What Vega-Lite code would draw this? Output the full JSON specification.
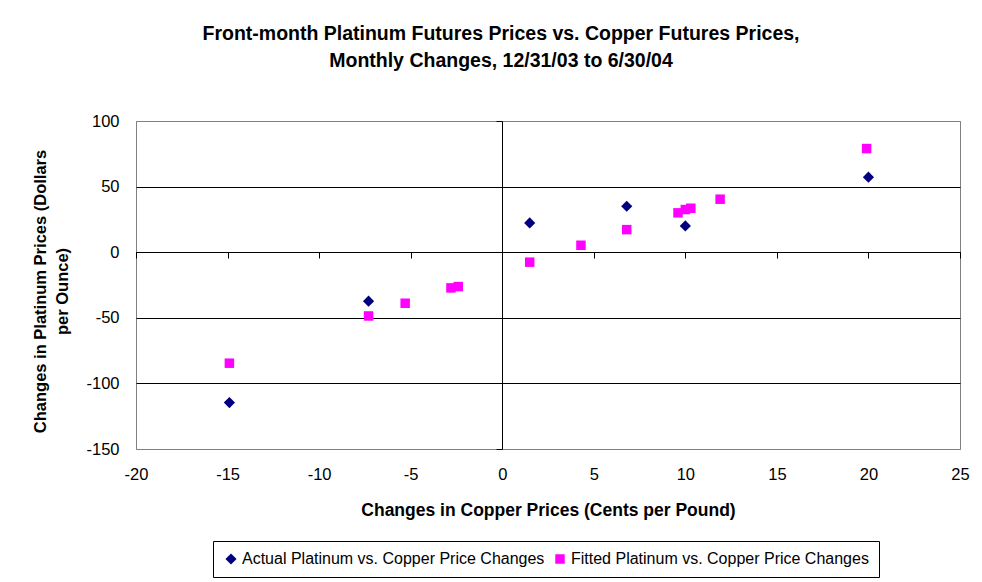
{
  "$schema": "https://vega.github.io/schema/vega-lite/v6.json",
  "width": 824,
  "height": 328,
  "autosize": {"type": "none"},
  "padding": {"left": 136, "top": 121, "right": 22, "bottom": 133},
  "background": "white",
  "title": {
    "text": ["Front-month Platinum Futures Prices vs. Copper Futures Prices,", "Monthly Changes, 12/31/03 to 6/30/04"],
    "font": "Liberation Sans",
    "fontSize": 19.5,
    "fontWeight": "bold",
    "color": "black",
    "anchor": "middle",
    "dx": -47,
    "offset": 42,
    "lineHeight": 27
  },
  "config": {
    "view": {"stroke": "#808080", "strokeWidth": 1},
    "font": "Liberation Sans"
  },
  "resolve": {"axis": {"x": "independent", "y": "independent"}},
  "layer": [
    {
      "data": {
        "values": [
          {"series": "Actual Platinum vs. Copper Price Changes", "copper": -14.9, "platinum": -114.6},
          {"series": "Actual Platinum vs. Copper Price Changes", "copper": -7.3, "platinum": -37.3},
          {"series": "Actual Platinum vs. Copper Price Changes", "copper": 1.5, "platinum": 22.3},
          {"series": "Actual Platinum vs. Copper Price Changes", "copper": 6.8, "platinum": 35.0},
          {"series": "Actual Platinum vs. Copper Price Changes", "copper": 10.0, "platinum": 20.0},
          {"series": "Actual Platinum vs. Copper Price Changes", "copper": 20.0, "platinum": 57.2},
          {"series": "Fitted Platinum vs. Copper Price Changes", "copper": -14.9, "platinum": -84.6},
          {"series": "Fitted Platinum vs. Copper Price Changes", "copper": -7.3, "platinum": -48.6},
          {"series": "Fitted Platinum vs. Copper Price Changes", "copper": -5.3, "platinum": -38.9},
          {"series": "Fitted Platinum vs. Copper Price Changes", "copper": -2.8, "platinum": -27.2},
          {"series": "Fitted Platinum vs. Copper Price Changes", "copper": -2.4, "platinum": -26.2},
          {"series": "Fitted Platinum vs. Copper Price Changes", "copper": 1.5, "platinum": -7.6},
          {"series": "Fitted Platinum vs. Copper Price Changes", "copper": 4.3, "platinum": 5.3},
          {"series": "Fitted Platinum vs. Copper Price Changes", "copper": 6.8, "platinum": 17.2},
          {"series": "Fitted Platinum vs. Copper Price Changes", "copper": 9.6, "platinum": 30.0},
          {"series": "Fitted Platinum vs. Copper Price Changes", "copper": 10.0, "platinum": 32.5},
          {"series": "Fitted Platinum vs. Copper Price Changes", "copper": 10.3, "platinum": 33.5},
          {"series": "Fitted Platinum vs. Copper Price Changes", "copper": 11.9, "platinum": 40.4},
          {"series": "Fitted Platinum vs. Copper Price Changes", "copper": 19.9, "platinum": 79.0}
        ]
      },
      "mark": {"type": "point", "filled": true, "opacity": 1},
      "encoding": {
        "x": {
          "field": "copper",
          "type": "quantitative",
          "scale": {"domain": [-20, 25], "nice": false, "zero": false},
          "axis": {
            "values": [-20, -15, -10, -5, 0, 5, 10, 15, 20, 25],
            "labelExpr": "datum.value + ''",
            "labelFlush": false,
            "grid": false,
            "ticks": false,
            "domain": false,
            "labelFontSize": 16.5,
            "labelColor": "black",
            "labelPadding": 17,
            "title": "Changes in Copper Prices (Cents per Pound)",
            "titleFontSize": 17.5,
            "titleFontWeight": "bold",
            "titleColor": "black",
            "titlePadding": 19
          }
        },
        "y": {
          "field": "platinum",
          "type": "quantitative",
          "scale": {"domain": [-150, 100], "nice": false, "zero": false},
          "axis": {
            "values": [-150, -100, -50, 0, 50, 100],
            "labelExpr": "datum.value + ''",
            "labelFlush": false,
            "grid": true,
            "gridColor": {"condition": {"test": "datum.value == 100 || datum.value == -150", "value": "#808080"}, "value": "black"},
            "gridOpacity": 1,
            "ticks": false,
            "domain": false,
            "labelFontSize": 16.5,
            "labelColor": "black",
            "labelPadding": 17,
            "title": ["Changes in Platinum Prices (Dollars", "per Ounce)"],
            "titleFontSize": 16.5,
            "titleFontWeight": "bold",
            "titleColor": "black",
            "titleLineHeight": 22,
            "titlePadding": 15,
            "titleY": 170
          }
        },
        "color": {
          "field": "series",
          "type": "nominal",
          "scale": {
            "domain": ["Actual Platinum vs. Copper Price Changes", "Fitted Platinum vs. Copper Price Changes"],
            "range": ["#000080", "#FF00FF"]
          },
          "legend": {
            "orient": "none",
            "legendX": 77,
            "legendY": 420,
            "direction": "horizontal",
            "title": null,
            "strokeColor": "black",
            "fillColor": "white",
            "padding": 10,
            "labelFontSize": 16,
            "labelColor": "black",
            "labelLimit": 500,
            "symbolSize": 60,
            "symbolStrokeWidth": 0,
            "columnPadding": 7,
            "labelOffset": 3
          }
        },
        "shape": {
          "field": "series",
          "type": "nominal",
          "scale": {
            "domain": ["Actual Platinum vs. Copper Price Changes", "Fitted Platinum vs. Copper Price Changes"],
            "range": ["diamond", "square"]
          }
        },
        "size": {
          "field": "series",
          "type": "nominal",
          "scale": {
            "domain": ["Actual Platinum vs. Copper Price Changes", "Fitted Platinum vs. Copper Price Changes"],
            "range": [125, 90]
          },
          "legend": null
        }
      }
    },
    {
      "data": {"values": [{}]},
      "mark": {"type": "rule", "opacity": 0},
      "encoding": {
        "x": {"datum": 0, "type": "quantitative", "axis": null},
        "y": {
          "datum": -150,
          "type": "quantitative",
          "axis": {
            "orient": "left",
            "offset": -366,
            "values": [-150, -100, -50, 0, 50, 100],
            "labels": false,
            "ticks": true,
            "tickSize": 6,
            "tickColor": "black",
            "domain": true,
            "domainColor": "black",
            "grid": false,
            "title": null
          }
        },
        "y2": {"datum": 100}
      }
    },
    {
      "data": {"values": [{}]},
      "mark": {"type": "rule", "opacity": 0},
      "encoding": {
        "y": {"datum": 0, "type": "quantitative", "axis": null},
        "x": {
          "datum": -20,
          "type": "quantitative",
          "axis": {
            "orient": "bottom",
            "offset": -197,
            "values": [-20, -15, -10, -5, 0, 5, 10, 15, 20, 25],
            "labels": false,
            "ticks": true,
            "tickSize": 6,
            "tickColor": "black",
            "domain": true,
            "domainColor": "black",
            "grid": false,
            "title": null
          }
        },
        "x2": {"datum": 25}
      }
    }
  ]
}
